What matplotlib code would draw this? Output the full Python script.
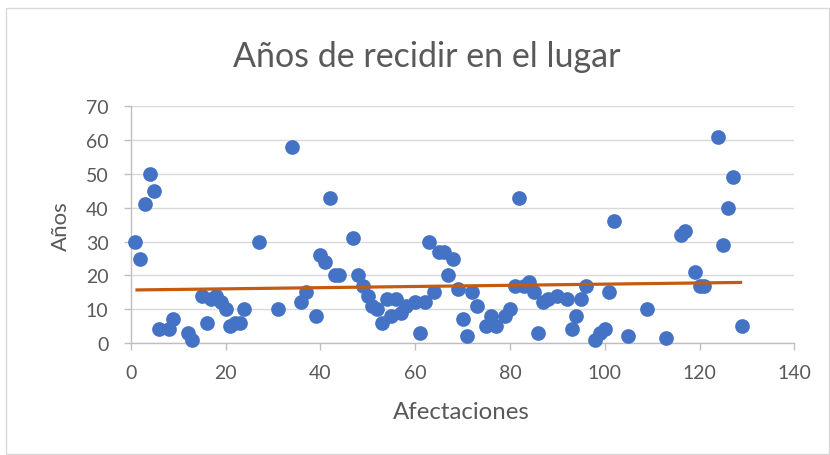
import matplotlib
matplotlib.use("Agg")
import matplotlib.pyplot as plt
import numpy as np
from matplotlib.patches import Rectangle

# Data
afectaciones = [1, 2, 3, 4, 5, 6, 8, 9, 12, 13, 15, 16, 17, 18, 19, 20, 21, 22, 23, 24,
                27, 31, 34, 36, 37, 39, 40, 41, 42, 43, 44, 47, 48, 49, 50, 51, 52, 53, 54, 55,
                56, 57, 58, 60, 61, 62, 63, 64, 65, 66, 67, 68, 69, 70, 71, 72, 73, 75, 76, 77,
                79, 80, 81, 82, 83, 84, 85, 86, 87, 88, 90, 92, 93, 94, 95, 96, 98, 99, 100, 101,
                102, 105, 109, 113, 116, 117, 119, 120, 121, 124, 125, 126, 127, 129]
anios = [30, 25, 41, 50, 45, 4, 4, 7, 3, 1, 14, 6, 13, 14, 12, 10, 5, 6, 6, 10,
         30, 10, 58, 12, 15, 8, 26, 24, 43, 20, 20, 31, 20, 17, 14, 11, 10, 6, 13, 8,
         13, 9, 11, 12, 3, 12, 30, 15, 27, 27, 20, 25, 16, 7, 2, 15, 11, 5, 8, 5,
         8, 10, 17, 43, 17, 18, 15, 3, 12, 13, 14, 13, 4, 8, 13, 17, 1, 3, 4, 15,
         36, 2, 10, 1.4, 32, 33, 21, 17, 17, 61, 29, 40, 49, 5]

x_ticks = [0, 20, 40, 60, 80, 100, 120, 140]
y_ticks = [0, 10, 20, 30, 40, 50, 60, 70]

title = "Años de recidir en el lugar"
xlabel = "Afectaciones"
ylabel = "Años"

FONT = ["Lato", "DejaVu Sans"]
TXT = "#595959"

fig = plt.figure(figsize=(8.3, 4.56), dpi=100)
W, H = 830, 456
left, right, top, bottom = 130.7, 794.3, 107.4, 344.0
ax = fig.add_axes([left / W, 1 - bottom / H, (right - left) / W, (bottom - top) / H])

# chart border
fig.patches.append(Rectangle((6 / W, 1 / H), (W - 7) / W, (H - 10) / H, transform=fig.transFigure,
                             fill=False, edgecolor="#d9d9d9", linewidth=1.0))

ax.set_xlim(0, 140)
ax.set_ylim(0, 70)
ax.set_xticks(x_ticks)
ax.set_yticks(y_ticks)
ax.set_xticklabels([str(v) for v in x_ticks], fontfamily=FONT, fontsize=14, color=TXT)
ax.set_yticklabels([str(v) for v in y_ticks], fontfamily=FONT, fontsize=14, color=TXT)
ax.grid(axis="y", color="#d9d9d9", linewidth=1.0)
ax.set_axisbelow(True)
for s in ["top", "right"]:
    ax.spines[s].set_visible(False)
for s in ["left", "bottom"]:
    ax.spines[s].set_color("#bfbfbf")
    ax.spines[s].set_linewidth(1.0)
ax.tick_params(axis="both", direction="out", length=5, color="#bfbfbf", width=1.0)
ax.tick_params(axis="x", pad=10)
ax.tick_params(axis="y", pad=11)

ax.scatter(afectaciones, anios, s=112, color="#4472C4", zorder=3, clip_on=False, linewidths=0)

# linear trend line
xa = np.array(afectaciones, dtype=float)
ya = np.array(anios, dtype=float)
m, b = np.polyfit(xa, ya, 1)
xt = np.array([xa.min(), xa.max()])
ax.plot(xt, m * xt + b, color="#C55A11", linewidth=2.3, zorder=4, solid_capstyle="butt")

renderer = fig.canvas.get_renderer()


def fit_text(x, y, s, width_px, rotation=0, weight="normal"):
    t = fig.text(x / W, 1 - y / H, s, ha="center", va="center", fontsize=10,
                 color=TXT, fontfamily=FONT, fontweight=weight, rotation=rotation)
    bb = t.get_window_extent(renderer)
    cur = bb.height if rotation else bb.width
    t.set_fontsize(10 * width_px / cur)
    return t


fit_text(426.5, 57, title, 389)
fit_text(461.5, 413, xlabel, 137)
fit_text(61, 226, ylabel, 50, rotation=90)

fig.savefig("out.png", dpi=100)
